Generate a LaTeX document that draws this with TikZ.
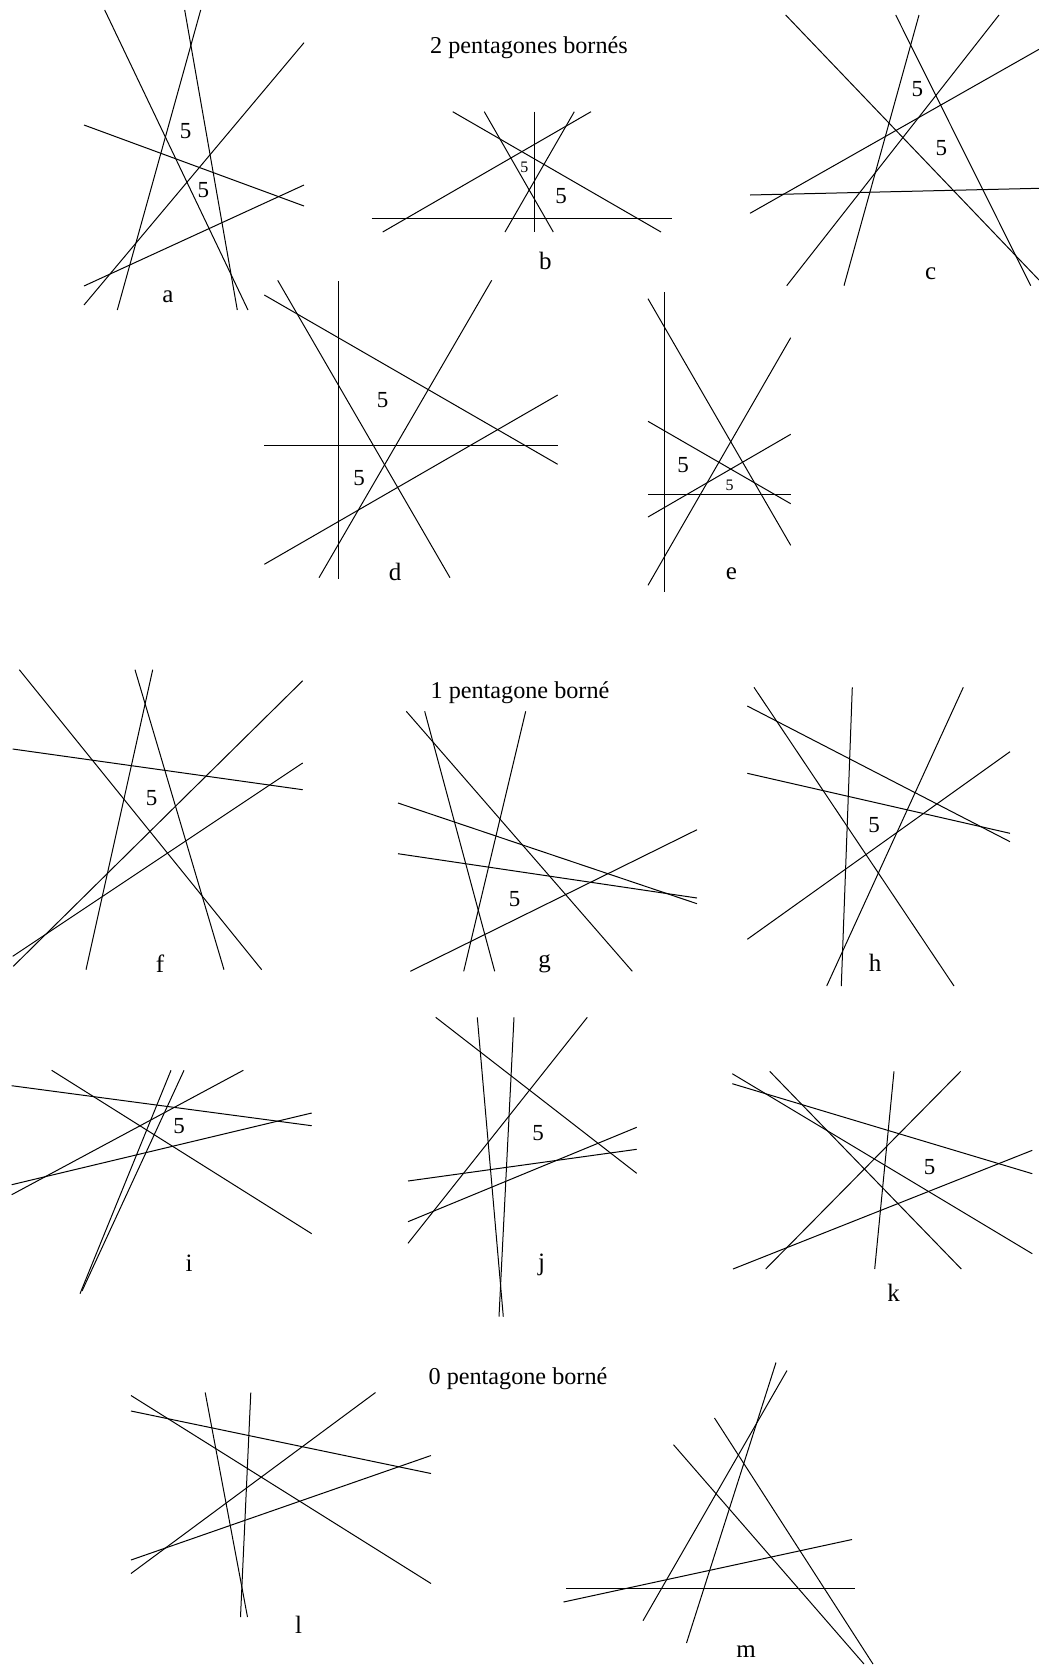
\documentclass[tikz,border=0pt]{standalone}
\usepackage{fontspec}
\setmainfont{Liberation Serif}
\usepackage{tikz}
\tikzset{
  droite/.style={line width=0.5pt},
  titre/.style={inner sep=0pt, font=\fontsize{12.1}{14}\selectfont},
  lettre/.style={inner sep=0pt, font=\fontsize{12.5}{14}\selectfont},
  cinq/.style={inner sep=0pt, font=\fontsize{11.5}{13}\selectfont},
  petitcinq/.style={inner sep=0pt, font=\fontsize{8}{9}\selectfont}
}

\begin{document}
\begin{tikzpicture}[x=0.5pt, y=-0.5pt]
\useasboundingbox (0,0) rectangle (1039,1667);

% titres
\node[titre] (t2) at (529,48) {2 pentagones bornés};
\node[titre] (t1) at (520,693) {1 pentagone borné};
\node[titre] (t0) at (518,1379) {0 pentagone borné};

% a
\draw[droite] (104.7,10) -- (248,310);
\draw[droite] (184.7,10) -- (237.3,310);
\draw[droite] (200.7,10) -- (117.3,310);
\draw[droite] (304,42.7) -- (84,305);
\draw[droite] (84,125) -- (304,206);
\draw[droite] (304,185) -- (84,286);
\node[cinq] (a1) at (185.7,131) {5};
\node[cinq] (a2) at (203.3,190) {5};
\node[lettre] (la) at (168,297) {a};

% b
\draw[droite] (371.7,218.3) -- (671.7,218.3);
\draw[droite] (534.7,111.7) -- (534.7,232);
\draw[droite] (452.7,111.7) -- (661,232);
\draw[droite] (484.3,111.7) -- (553.3,232);
\draw[droite] (574.3,111.7) -- (505,232);
\draw[droite] (591,111.7) -- (382.7,232);
\node[petitcinq] (b1) at (524.3,167) {5};
\node[cinq] (b2) at (561,196) {5};
\node[lettre] (lb) at (545.3,261) {b};

% c
\draw[droite] (785.7,15) -- (1039,280);
\draw[droite] (895.7,15) -- (1030.7,285.7);
\draw[droite] (919,15) -- (844,285.7);
\draw[droite] (999,15) -- (786.7,285.7);
\draw[droite] (1039,49.3) -- (750,213.3);
\draw[droite] (750,195) -- (1039,188.3);
\node[cinq] (c1) at (917.3,89.3) {5};
\node[cinq] (c2) at (941.3,147.7) {5};
\node[lettre] (lc) at (930.7,274) {c};

% d
\draw[droite] (338.3,281) -- (338.3,579.3);
\draw[droite] (264.3,445) -- (557.7,445);
\draw[droite] (277.7,280.3) -- (450,577.7);
\draw[droite] (264.3,295) -- (557.7,464.3);
\draw[droite] (491.7,280.3) -- (319,577.7);
\draw[droite] (557.7,395) -- (264.3,564.3);
\node[cinq] (d1) at (382.7,400.3) {5};
\node[cinq] (d2) at (359,478.3) {5};
\node[lettre] (ld) at (395,572) {d};

% e
\draw[droite] (664,292) -- (664,592);
\draw[droite] (648,494.3) -- (790.7,494.3);
\draw[droite] (648,298.7) -- (790.7,545.3);
\draw[droite] (790.7,337.7) -- (648,585.3);
\draw[droite] (648,421.3) -- (790.7,503.7);
\draw[droite] (790.7,434.3) -- (648,517);
\node[cinq] (e1) at (683,465.3) {5};
\node[petitcinq] (e2) at (729.7,485.3) {5};
\node[lettre] (le) at (731.3,573.7) {e};

% f
\draw[droite] (19.3,669.7) -- (261.7,969.7);
\draw[droite] (135,669.7) -- (224,969.7);
\draw[droite] (152.7,669.7) -- (86,969.7);
\draw[droite] (302.7,680.7) -- (13.3,966.3);
\draw[droite] (12.7,749) -- (302.7,789.7);
\draw[droite] (302.7,763) -- (12.7,956.3);
\node[cinq] (f1) at (151.7,798.3) {5};
\node[lettre] (lf) at (160,964) {f};

% g
\draw[droite] (406.3,711.3) -- (632.3,971.3);
\draw[droite] (424.7,711.3) -- (494.7,971.3);
\draw[droite] (525.7,711.3) -- (463.7,971.3);
\draw[droite] (398,803) -- (697,903.7);
\draw[droite] (398,853.7) -- (697,898);
\draw[droite] (697,829.7) -- (410.3,971.3);
\node[cinq] (g1) at (514.7,898.7) {5};
\node[lettre] (lg) at (544.7,964) {g};

% h
\draw[droite] (754,687.3) -- (954,986);
\draw[droite] (852.3,687.3) -- (841.3,986);
\draw[droite] (963.3,687.3) -- (826.7,986);
\draw[droite] (747.3,706) -- (1010,841.7);
\draw[droite] (747.3,773.3) -- (1010,833.3);
\draw[droite] (1010,751.7) -- (747.3,939.3);
\node[cinq] (h1) at (874,825) {5};
\node[lettre] (lh) at (875,963.3) {h};

% i
\draw[droite] (11.7,1085.7) -- (311.7,1125.7);
\draw[droite] (51.7,1070.3) -- (311.7,1233.7);
\draw[droite] (243.3,1070.3) -- (11.7,1194.7);
\draw[droite] (311.7,1113) -- (11.7,1184.7);
\draw[droite] (171,1070.3) -- (80,1293.7);
\draw[droite] (184,1070.3) -- (82,1291);
\node[cinq] (i1) at (179,1126.3) {5};
\node[lettre] (li) at (189,1263) {i};

% j
\draw[droite] (435.7,1017.3) -- (636.7,1173.3);
\draw[droite] (477.3,1017.3) -- (503.3,1316.7);
\draw[droite] (514,1017.3) -- (499,1316.7);
\draw[droite] (587.3,1017.3) -- (408,1243.3);
\draw[droite] (636.7,1127.3) -- (408,1221.7);
\draw[droite] (408,1181) -- (636.7,1149.3);
\node[cinq] (j1) at (538,1132.7) {5};
\node[lettre] (lj) at (541.7,1265) {j};

% k
\draw[droite] (732.3,1073.7) -- (1032.3,1253.7);
\draw[droite] (732.3,1083.7) -- (1032.3,1173.7);
\draw[droite] (769.7,1071.3) -- (961.3,1269);
\draw[droite] (894,1071.3) -- (874.7,1269);
\draw[droite] (960.7,1071.3) -- (765.7,1269);
\draw[droite] (1032.3,1150.3) -- (733,1269);
\node[cinq] (k1) at (929.7,1167) {5};
\node[lettre] (lk) at (893.7,1293) {k};

% l
\draw[droite] (131,1395.5) -- (431,1583.5);
\draw[droite] (131,1411) -- (431,1473.5);
\draw[droite] (205.2,1392.5) -- (247.5,1617);
\draw[droite] (250.8,1392.5) -- (240.5,1617);
\draw[droite] (375.5,1392.5) -- (131,1573.5);
\draw[droite] (431,1455.5) -- (131,1560);
\node[lettre] (ll) at (298.5,1625) {l};

% m
\draw[droite] (566,1588.5) -- (855,1588.5);
\draw[droite] (563.5,1602) -- (852,1539.5);
\draw[droite] (776,1362.5) -- (686.5,1643);
\draw[droite] (787,1370.5) -- (643,1620.7);
\draw[droite] (714.5,1418) -- (873,1664);
\draw[droite] (673.5,1444.7) -- (864,1664);
\node[lettre] (lm) at (746,1652) {m};
\end{tikzpicture}
\end{document}
